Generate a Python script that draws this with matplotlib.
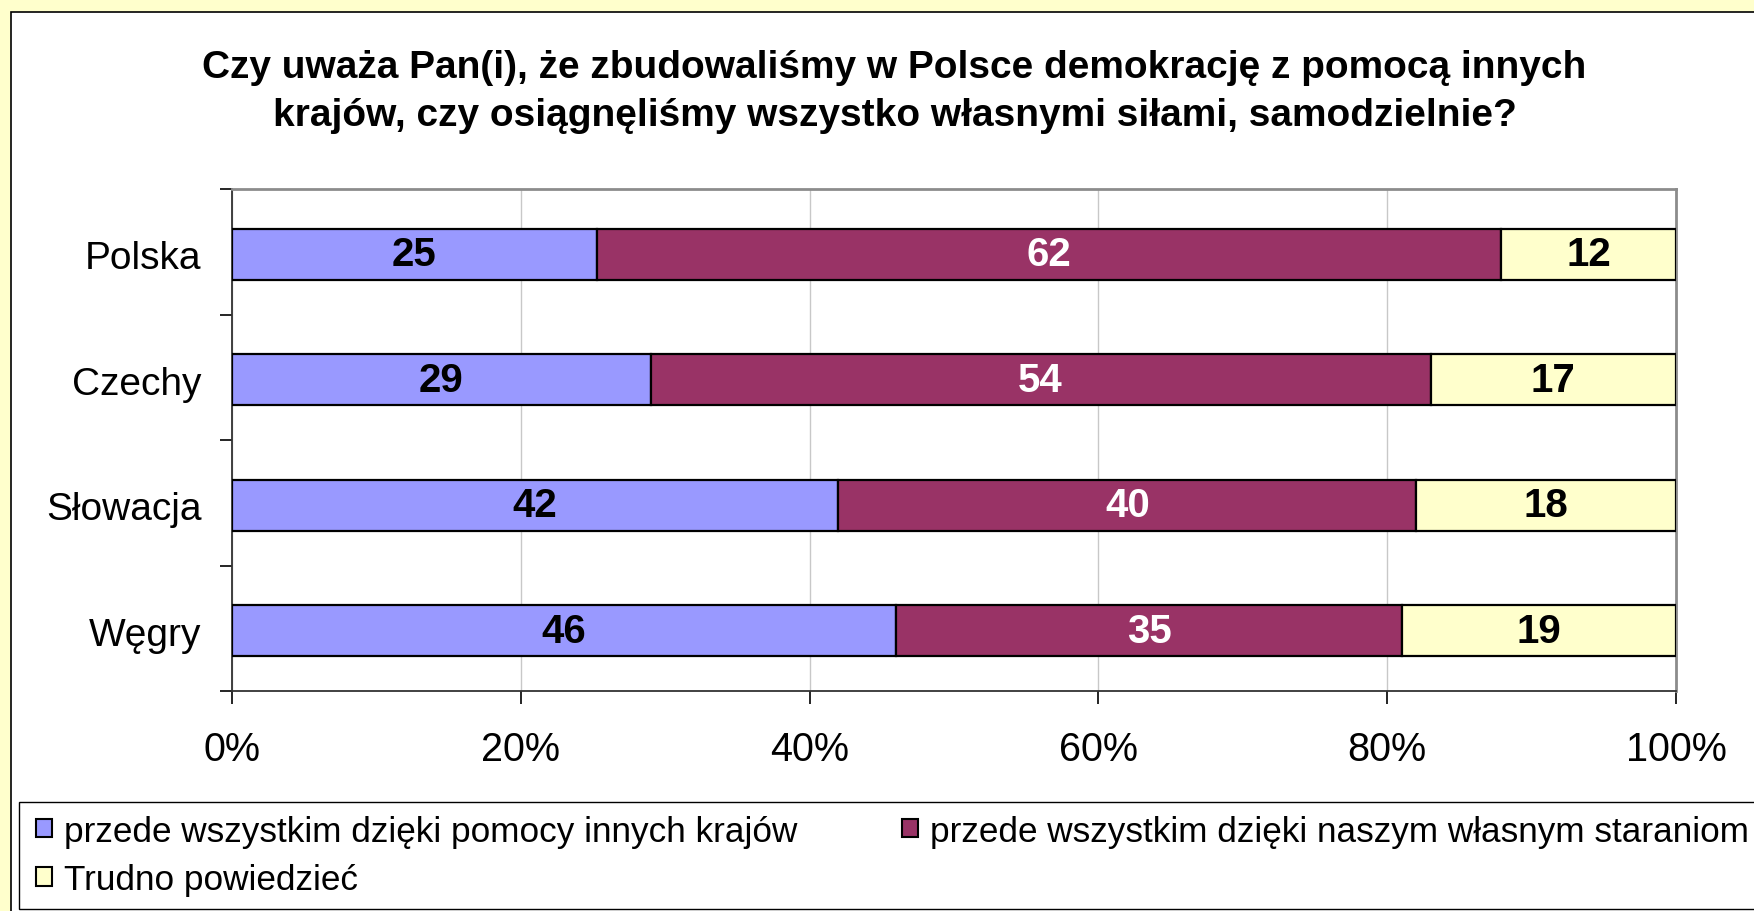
import matplotlib
matplotlib.use("Agg")
import matplotlib.pyplot as plt
from matplotlib.patches import Rectangle, Patch
import numpy as np

plt.rcParams['font.family'] = ['Liberation Sans', 'DejaVu Sans']

countries = ["Polska", "Czechy", "Słowacja", "Węgry"]
pomoc = [25, 29, 42, 46]
sami = [62, 54, 40, 35]
trudno = [12, 17, 18, 19]

series_names = ["przede wszystkim dzięki pomocy innych krajów",
                "przede wszystkim dzięki naszym własnym staraniom",
                "Trudno powiedzieć"]
colors = ["#9999FF", "#993366", "#FFFFCC"]
label_colors = ["black", "white", "black"]

title = ("Czy uważa Pan(i), że zbudowaliśmy w Polsce demokrację z pomocą innych\n"
         "krajów, czy osiągnęliśmy wszystko własnymi siłami, samodzielnie?")

W, H = 1754, 912
fig = plt.figure(figsize=(W / 100, H / 100), dpi=100, facecolor="#FFFFCC")

# white panel with black border
fig.patches.append(Rectangle((11 / W, -0.01), 1.0, 1 - 13 / H + 0.01,
                             transform=fig.transFigure, facecolor="white",
                             edgecolor="black", linewidth=1.2, zorder=-2))

fig.text(0.51, 1 - 92 / H, title, ha="center", va="center", fontsize=28,
         fontweight="bold", linespacing=1.4)

ax = fig.add_axes([232 / W, 1 - 692 / H, (1676 - 232) / W, (692 - 190) / H])
ax.set_facecolor("white")

data = np.array([pomoc, sami, trudno], dtype=float)
pct = data / data.sum(axis=0) * 100
y = np.arange(len(countries))
left = np.zeros(len(countries))
for i in range(3):
    ax.barh(y + 0.02, pct[i], left=left, height=0.41, color=colors[i],
            edgecolor="black", linewidth=1.6, zorder=3)
    for j in range(len(countries)):
        ax.text(left[j] + pct[i][j] / 2, y[j] + 0.02, str(int(data[i][j])),
                ha="center", va="center", fontsize=29, fontweight="bold",
                color=label_colors[i], zorder=4)
    left += pct[i]

ax.set_xlim(0, 100)
ax.set_ylim(3.5, -0.5)
ax.set_xticks([0, 20, 40, 60, 80, 100])
ax.set_xticklabels(["0%", "20%", "40%", "60%", "80%", "100%"], fontsize=28.5)
ax.xaxis.grid(True, color="#C8C8C8", linewidth=1.0, zorder=0)
ax.tick_params(axis="x", direction="out", length=9, width=1.2, pad=19)

ax.set_yticks([-0.5, 0.5, 1.5, 2.5, 3.5])
ax.set_yticklabels([])
ax.set_yticks(y + 0.02, minor=True)
ax.set_yticklabels(countries, minor=True, fontsize=28)
ax.tick_params(axis="y", which="major", direction="out", length=9, width=1.2)
ax.tick_params(axis="y", which="minor", length=0, pad=22)

for s in ["left", "bottom"]:
    ax.spines[s].set_color("#333333")
    ax.spines[s].set_linewidth(1.3)
for s in ["top", "right"]:
    ax.spines[s].set_color("#8C8C8C")
    ax.spines[s].set_linewidth(2.0)

# legend box
fig.patches.append(Rectangle((19 / W, 1 - 910 / H), 1.0, (910 - 803) / H,
                             transform=fig.transFigure, facecolor="white",
                             edgecolor="black", linewidth=1.0, zorder=-1))
handles = [Patch(facecolor=c, edgecolor="black", linewidth=1.5) for c in colors]
order = [0, 2, 1]
fig.legend([handles[k] for k in order], [series_names[k] for k in order],
           loc="upper left", bbox_to_anchor=(18.5 / W, 1 - 798 / H), ncol=2,
           frameon=False, fontsize=25.3, handlelength=0.45, handleheight=0.45,
           handletextpad=0.35, columnspacing=2.97, labelspacing=0.45, borderpad=0)

fig.savefig("out.png", dpi=100, facecolor=fig.get_facecolor())
